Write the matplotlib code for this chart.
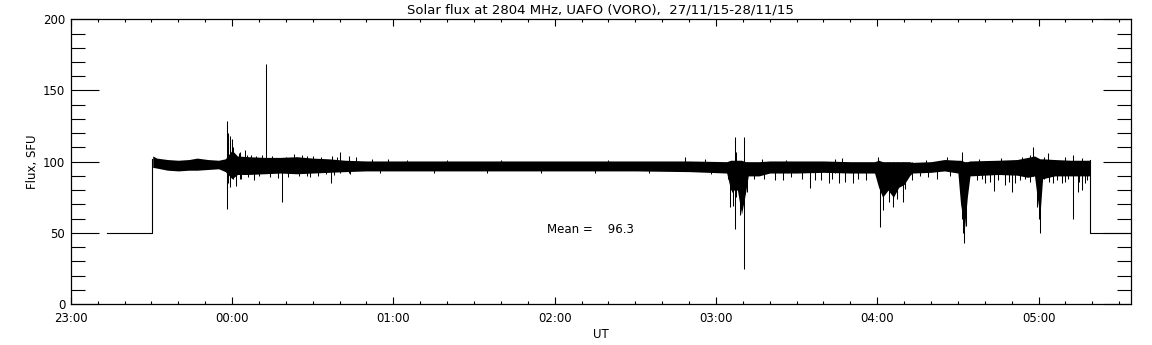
# Solar flux at 2804 MHz - UAFO (VORO) daily record
import matplotlib
matplotlib.use("Agg")
import matplotlib.pyplot as plt
from matplotlib.ticker import MultipleLocator, FixedLocator

# time in minutes after 23:00 UT (27/11/15)
t_start = 0.0
t_end = 394.4

# flat "no signal" level before / after observations
pre_t = [13.4, 30.4, 30.4]
pre_v = [50, 50, 102]
post_t = [379.2, 379.2, 394.4]
post_v = [101, 50, 50]

# envelope of the noisy flux band (minute, low, high)
band_t = [30.5, 32, 36, 40, 44, 47, 51, 55, 57.5, 60, 62, 66, 72, 78, 84, 90, 96, 102,
          110, 130, 150, 170, 190, 210, 230, 244, 245.5, 248, 249.5, 251, 252, 256,
          260, 270, 280, 290, 299, 300.5, 302, 304, 306, 308, 310, 312, 313, 320, 325,
          330, 331, 332.5, 333.5, 334.5, 345, 352, 356, 358.5, 359.5, 360.5, 361.5,
          366, 372, 379.2]
band_lo = [96, 95.5, 94, 93.5, 94, 94, 94.5, 95, 93, 88, 91, 91, 91.5, 92, 91.5, 92, 92.5, 93,
           93.5, 93.5, 93.5, 93.5, 93.5, 93.5, 93, 92, 80, 80, 63, 78, 90, 90,
           92, 92, 92.5, 92, 92, 82, 75, 80, 75, 82, 84, 90, 92, 92.5, 93.5,
           92, 70, 54, 75, 90, 91, 90.5, 89, 90, 75, 62, 88,
           90, 90, 90]
band_hi = [104, 102.5, 101.5, 101, 101.5, 102.5, 101.5, 101, 102, 108, 104, 103.5, 103, 103, 103.5, 102.5, 102, 101,
           100.5, 100.5, 100.5, 100.5, 100.5, 100.5, 100.5, 100, 101, 101, 101, 100, 100, 100,
           100.5, 100.5, 100.5, 100, 100, 101, 100, 100, 100, 100, 100, 100, 99.5, 100, 101.5,
           101, 101, 100, 100, 100.5, 101, 101.5, 103, 104, 103, 102, 102,
           101.5, 101, 101]

# individual spikes / dips (minute, low, high)
spike_t = [58.0, 58.3, 58.6, 59.2, 59.9, 60.5, 61.4, 63.0, 64.8, 67.1, 72.7, 78.7, 83.0, 88.0,
           96.7, 100.2, 103.5,
           244.6, 245.3, 245.9, 246.5, 247.1, 247.6, 249.0, 250.0, 250.6, 251.5,
           262.0, 265.1, 275.0, 276.9, 281.9, 284.3, 285.6, 291.1,
           300.4, 301.1, 302.3, 304.5, 306.0, 307.5, 309.7, 310.3, 312.8, 322.1,
           331.4, 332.0, 332.4, 333.0, 340.1, 343.3, 347.6, 350.1, 351.3, 355.0,
           358.0, 359.4, 360.1, 360.6, 363.6, 365.5, 368.6, 372.9, 374.7, 376.1, 377.3]
spike_lo = [80, 66.4, 85, 82, 90, 88, 82.8, 88, 92, 92, 95, 71.8, 92, 90,
            85, 92, 92,
            88, 68.3, 78.8, 68.8, 53, 75, 62.5, 70, 24.4, 78.8,
            87, 87, 81.4, 87, 85, 92, 85, 85,
            90, 54, 66, 72, 68, 74, 71.8, 81, 87, 87.5,
            60, 50, 43, 55, 84.7, 79.5, 83.5, 78.8, 85, 88,
            90, 68, 60, 50, 90, 84.7, 85, 60, 78.6, 80, 85]
spike_hi = [128.4, 100, 119.8, 118, 115.6, 110, 100, 107, 108, 104.6, 168.5, 98, 105.7, 104,
            95, 106.5, 104,
            100, 100, 100, 100, 117.5, 107, 100, 100, 117.5, 100,
            99, 99, 99, 99, 99, 102, 99, 99,
            103, 100, 100, 100, 100, 100, 100, 100, 100, 100,
            106.9, 100, 100, 100, 100, 100, 100, 100, 100, 100,
            110, 100, 100, 100, 106, 100, 100, 104.6, 100, 100, 100]

# smaller excursions on the edges of the band
fuzz_up_t = [62.5, 65.5, 69, 71, 75, 80, 86, 90, 93, 97, 99, 106, 112, 118, 125, 140, 160,
             200, 228.5, 236, 257, 266, 287, 318, 326, 338, 346, 354, 357, 362, 370, 376]
fuzz_up_v = [106, 105, 104, 105, 104, 103.5, 105, 104, 103, 104, 103, 103, 102, 102, 101.5,
             101.5, 101.5, 101.5, 103.4, 102, 102, 101.5, 102.5, 101.5, 103, 102, 102.5, 103,
             105, 103, 103, 102.5]
fuzz_dn_t = [63.5, 66, 68, 70, 74, 77, 81, 85, 89, 92, 95, 98, 104, 115, 135, 155, 175, 195,
             215, 238, 254, 258, 268, 272, 279, 283, 288, 293, 296, 316, 319, 327,
             337, 339, 342, 345, 349, 353, 357, 362, 364, 367, 370, 371, 375, 378]
fuzz_dn_v = [88, 89, 87, 90, 89, 88.5, 89, 90, 89, 90, 91, 90.5, 91, 92, 92, 92, 92, 92,
             92, 91, 88, 88, 89, 88, 87, 88, 86, 88, 87, 90, 89, 90,
             87, 88, 86, 87, 86, 87, 86, 88, 86, 87, 86, 88, 86, 87]

hour_labels = ["23:00", "00:00", "01:00", "02:00", "03:00", "04:00", "05:00"]
mean_flux = 96.3

plt.rcParams["font.family"] = "DejaVu Sans"
fig = plt.figure(figsize=(11.52, 3.45), dpi=100)
ax = fig.add_axes([0.0614, 0.1188, 0.9204, 0.8252])

ax.plot(pre_t, pre_v, color="k", lw=0.8)
ax.plot(post_t, post_v, color="k", lw=0.8)
ax.fill_between(band_t, band_lo, band_hi, color="k", lw=0)
ax.vlines(spike_t, spike_lo, spike_hi, color="k", lw=0.75)
ax.vlines(fuzz_up_t, 97, fuzz_up_v, color="k", lw=0.75)
ax.vlines(fuzz_dn_t, fuzz_dn_v, 97, color="k", lw=0.75)

ax.text(177, 52.6, "Mean =    %.1f" % mean_flux, fontsize=8.5, ha="left", va="center")

ax.set_xlim(t_start, t_end)
ax.set_ylim(0, 200)
ax.xaxis.set_major_locator(FixedLocator([60 * i for i in range(len(hour_labels))]))
ax.set_xticklabels(hour_labels)
ax.xaxis.set_minor_locator(MultipleLocator(10))
ax.yaxis.set_major_locator(MultipleLocator(50))
ax.yaxis.set_minor_locator(MultipleLocator(10))

ax.tick_params(axis="x", which="major", direction="in", length=5, width=0.8,
               top=True, bottom=True, labelsize=8.5, pad=6)
ax.tick_params(axis="x", which="minor", direction="in", length=2.5, width=0.8,
               top=True, bottom=True)
ax.tick_params(axis="y", which="major", direction="in", length=20, width=0.8,
               left=True, right=True, labelsize=8.5, pad=4)
ax.tick_params(axis="y", which="minor", direction="in", length=10, width=0.8,
               left=True, right=True)
for s in ax.spines.values():
    s.set_linewidth(0.9)

ax.set_title("Solar flux at 2804 MHz, UAFO (VORO),  27/11/15-28/11/15", fontsize=9.5, pad=4)
ax.set_ylabel("Flux, SFU", fontsize=8.5, labelpad=3)
ax.set_xlabel("UT", fontsize=8.5, labelpad=2)

fig.savefig("out.png", dpi=100)
